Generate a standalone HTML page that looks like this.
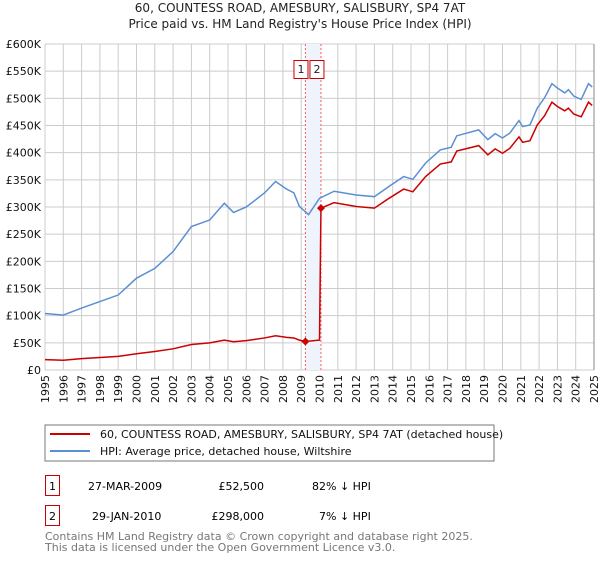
<!DOCTYPE html>
<html><head><meta charset="utf-8"><style>
body{margin:0;background:#fff;width:600px;height:560px;overflow:hidden;font-family:"DejaVu Sans","Liberation Sans",sans-serif}
svg text{font-family:"DejaVu Sans","Liberation Sans",sans-serif}
</style></head><body>
<svg id="c" width="600" height="560" xmlns="http://www.w3.org/2000/svg">
<text x="300" y="12" text-anchor="middle" font-size="12" fill="#222">60, COUNTESS ROAD, AMESBURY, SALISBURY, SP4 7AT</text>
<text x="300" y="28" text-anchor="middle" font-size="12" fill="#222">Price paid vs. HM Land Registry's House Price Index (HPI)</text>
<g id="grid"></g><g id="shade"></g><g id="series"></g><g id="axes"></g>
<rect x="45" y="425" width="449" height="36" fill="#fff" stroke="#777"/>
<line x1="50" y1="434" x2="90" y2="434" stroke="#cc0000" stroke-width="2"/>
<text x="100" y="438" font-size="11" fill="#111">60, COUNTESS ROAD, AMESBURY, SALISBURY, SP4 7AT (detached house)</text>
<line x1="50" y1="451" x2="90" y2="451" stroke="#5b8fd4" stroke-width="2"/>
<text x="100" y="455" font-size="11" fill="#111">HPI: Average price, detached house, Wiltshire</text>
<g>
<rect x="45.5" y="475.5" width="14" height="20" fill="#fff" stroke="#cc0000"/>
<text x="52.5" y="490" text-anchor="middle" font-size="11">1</text>
<text x="88" y="490" font-size="11">27-MAR-2009</text>
<text x="264" y="490" text-anchor="end" font-size="11">£52,500</text>
<text x="312" y="490" font-size="11">82% ↓ HPI</text></g>
<g>
<rect x="45.5" y="505.5" width="14" height="20" fill="#fff" stroke="#cc0000"/>
<text x="52.5" y="520" text-anchor="middle" font-size="11">2</text>
<text x="92" y="520" font-size="11">29-JAN-2010</text>
<text x="264" y="520" text-anchor="end" font-size="11">£298,000</text>
<text x="319" y="520" font-size="11">7% ↓ HPI</text></g>
<text x="45" y="540" font-size="11" fill="#777">Contains HM Land Registry data © Crown copyright and database right 2025.</text>
<text x="45" y="551" font-size="11" fill="#777">This data is licensed under the Open Government Licence v3.0.</text>
</svg>
<script>
const hpiYears=[1995,1996,1997,1998,1999,2000,2001,2002,2003,2004,2004.8,2005.3,2006,2007,2007.6,2008.2,2008.6,2008.9,2009.4,2010.0,2010.8,2012,2013,2013.8,2014.6,2015.1,2015.8,2016.6,2017.2,2017.5,2018.7,2019.2,2019.6,2020,2020.4,2020.9,2021.1,2021.5,2021.9,2022.3,2022.7,2023,2023.4,2023.6,2023.9,2024.3,2024.7,2024.9];
const hpiValues=[104,101,114,126,138,169,187,218,264,276,307,290,300,326,347,333,326,301,286,316,329,322,319,338,356,351,381,405,410,431,442,424,435,427,436,459,448,451,482,501,527,519,510,516,504,498,527,521];
const priceYears=[1995,1996,1997,1998,1999,2000,2001,2002,2003,2004,2004.8,2005.3,2006,2007,2007.6,2008.2,2008.6,2008.9,2009.23,2010.0,2010.08,2010.8,2012,2013,2013.8,2014.6,2015.1,2015.8,2016.6,2017.2,2017.5,2018.7,2019.2,2019.6,2020,2020.4,2020.9,2021.1,2021.5,2021.9,2022.3,2022.7,2023,2023.4,2023.6,2023.9,2024.3,2024.7,2024.9];
const priceValues=[19,18,21,23,25,30,34,39,47,50,55,52,54,59,63,60,59,55,52.5,55,298,308,301,298,316,333,328,356,379,383,403,413,396,407,399,408,429,419,422,451,468,493,485,477,482,471,466,493,487];
const saleYears=[2009.23,2010.08];
const saleValues=[52.5,298];
const saleLabels=["1","2"];
const yTicks=[0,50,100,150,200,250,300,350,400,450,500,550,600];
const yTickLabels=["£0","£50K","£100K","£150K","£200K","£250K","£300K","£350K","£400K","£450K","£500K","£550K","£600K"];
const xTicks=[1995,1996,1997,1998,1999,2000,2001,2002,2003,2004,2005,2006,2007,2008,2009,2010,2011,2012,2013,2014,2015,2016,2017,2018,2019,2020,2021,2022,2023,2024,2025];

const NS="http://www.w3.org/2000/svg";
const L=45,R=594,T=44,B=370;
const xs=y=>L+(y-1995)/30*(R-L);
const ys=v=>B-v/600*(B-T);
function mk(tag,attrs,parent){const e=document.createElementNS(NS,tag);for(const k in attrs)e.setAttribute(k,attrs[k]);document.getElementById(parent).appendChild(e);return e;}
xTicks.forEach(t=>{const l=mk('line',{x1:xs(t),x2:xs(t),y1:T,y2:B,stroke:'#ccc'},'grid');


const px=xs(t)+4,py=B+5;
const tx=mk('text',{x:px,y:py,'text-anchor':'end','font-size':11,fill:'#111',transform:`rotate(-90 ${px} ${py})`},'axes');tx.textContent=t;

});
yTicks.forEach((t,i)=>{const l=mk('line',{x1:L,x2:R,y1:ys(t),y2:ys(t),stroke:'#ccc'},'grid');


const tx=mk('text',{x:L-4,y:ys(t)+4,'text-anchor':'end','font-size':11,fill:'#111'},'axes');tx.textContent=yTickLabels[i];

});
const sh=mk('rect',{x:xs(saleYears[0]),y:T,width:xs(saleYears[1])-xs(saleYears[0]),height:B-T,fill:'#eef3fc'},'shade');


const box2x=xs(saleYears[1])-11;
saleYears.forEach((y,i)=>{const l=mk('line',{x1:xs(y),x2:xs(y),y1:T,y2:B,stroke:'#f06060','stroke-dasharray':'2,2'},'shade');


const bx=i===0?box2x-16:box2x;
const r=mk('rect',{x:bx,y:60.5,width:14,height:18,fill:'#fff',stroke:'#cc0000'},'axes');


const t=mk('text',{x:bx+7,y:73,'text-anchor':'middle','font-size':11,fill:'#222'},'axes');t.textContent=saleLabels[i];

});
const hp=mk('polyline',{points:hpiYears.map((y,i)=>xs(y)+','+ys(hpiValues[i])).join(' '),fill:'none',stroke:'#5b8fd4','stroke-width':1.5},'series');


const pp=mk('polyline',{points:priceYears.map((y,i)=>xs(y)+','+ys(priceValues[i])).join(' '),fill:'none',stroke:'#cc0000','stroke-width':1.5},'series');


saleYears.forEach((y,i)=>{const x=xs(y),yy=ys(saleValues[i]);
const d=mk('polygon',{points:`${x},${yy-4} ${x+4},${yy} ${x},${yy+4} ${x-4},${yy}`,fill:'#cc0000'},'series');

});
const ax=mk('line',{x1:R,x2:R,y1:T,y2:B,stroke:'#888'},'axes');


</script>
</body></html>
